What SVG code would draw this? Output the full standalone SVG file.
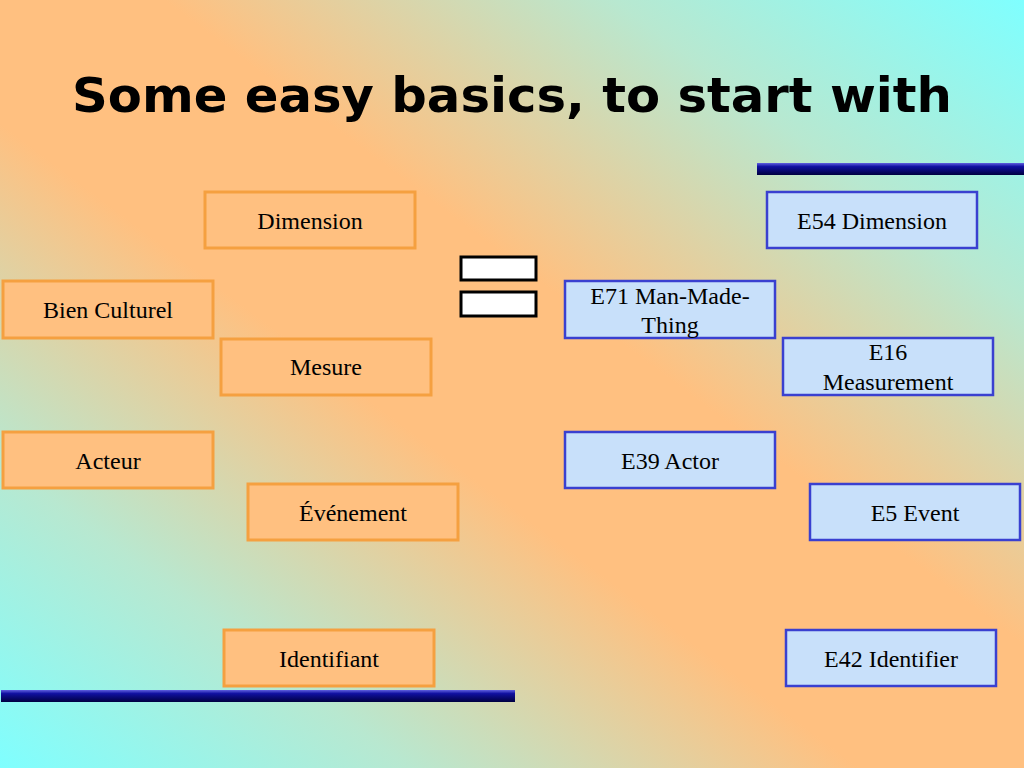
<svg xmlns="http://www.w3.org/2000/svg" width="1024" height="768" viewBox="0 0 1024 768">
<defs>
<linearGradient id="bg" x1="1" y1="0" x2="0" y2="1">
<stop offset="0" stop-color="#7FFFFF"/>
<stop offset="0.2" stop-color="#B8E8D0"/>
<stop offset="0.42" stop-color="#FFC080"/>
<stop offset="0.58" stop-color="#FFC080"/>
<stop offset="0.8" stop-color="#B8E8D0"/>
<stop offset="1" stop-color="#7FFFFF"/>
</linearGradient>
<linearGradient id="bar" x1="0" y1="0" x2="0" y2="1">
<stop offset="0" stop-color="#6060E0"/>
<stop offset="0.3" stop-color="#1010A0"/>
<stop offset="1" stop-color="#000040"/>
</linearGradient>
</defs>
<style>
.l rect{fill:#FFC080;stroke:#F5A040;stroke-width:3}
.r rect{fill:#C8E0FA;stroke:#3A40D0;stroke-width:2.5}
text{font-family:"Liberation Serif","DejaVu Serif",serif;font-size:24px;fill:#000;text-anchor:middle}
</style>
<rect width="1024" height="768" fill="url(#bg)"/>
<text x="72" y="112" textLength="880" lengthAdjust="spacingAndGlyphs" style="font-family:'DejaVu Sans',Verdana,sans-serif;font-weight:bold;font-size:48px;text-anchor:start">Some easy basics, to start with</text>
<rect x="757" y="163" width="267" height="12" fill="url(#bar)"/>
<rect x="1" y="690" width="514" height="12" fill="url(#bar)"/>
<g id="equals" fill="#fff" stroke="#000" stroke-width="3">
<rect x="461" y="257" width="75" height="23"/>
<rect x="461" y="292" width="75" height="24"/>
</g>
<g id="connectors"/>
<g id="n1" class="l"><rect x="205" y="192" width="210" height="56"/><text x="310" y="229">Dimension</text></g>
<g id="n2" class="l"><rect x="3" y="281" width="210" height="57"/><text x="108" y="318">Bien Culturel</text></g>
<g id="n3" class="l"><rect x="221" y="339" width="210" height="56"/><text x="326" y="375">Mesure</text></g>
<g id="n4" class="l"><rect x="3" y="432" width="210" height="56"/><text x="108" y="469">Acteur</text></g>
<g id="n5" class="l"><rect x="248" y="484" width="210" height="56"/><text x="353" y="521">Événement</text></g>
<g id="n6" class="l"><rect x="224" y="630" width="210" height="56"/><text x="329" y="667">Identifiant</text></g>
<g id="m1" class="r"><rect x="767" y="192" width="210" height="56"/><text x="872" y="229">E54 Dimension</text></g>
<g id="m2" class="r"><rect x="565" y="281" width="210" height="57"/><text x="670" y="304">E71 Man-Made-</text><text x="670" y="333">Thing</text></g>
<g id="m3" class="r"><rect x="783" y="338" width="210" height="57"/><text x="888" y="360">E16</text><text x="888" y="390">Measurement</text></g>
<g id="m4" class="r"><rect x="565" y="432" width="210" height="56"/><text x="670" y="469">E39 Actor</text></g>
<g id="m5" class="r"><rect x="810" y="484" width="210" height="56"/><text x="915" y="521">E5 Event</text></g>
<g id="m6" class="r"><rect x="786" y="630" width="210" height="56"/><text x="891" y="667">E42 Identifier</text></g>
</svg>
